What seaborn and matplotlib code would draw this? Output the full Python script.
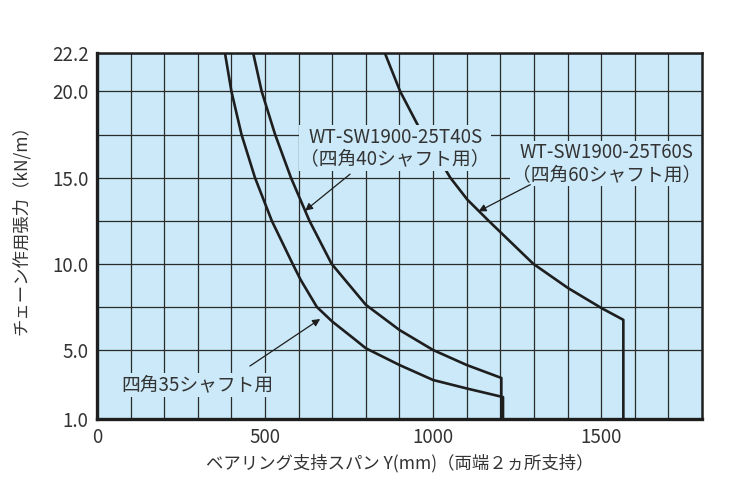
import matplotlib
matplotlib.use('Agg')
import matplotlib.pyplot as plt
import pandas as pd
import seaborn as sns

# curve data (span in mm, tension in kN/m)
span_35 = [381, 400, 430, 470, 520, 582, 606, 654, 700, 763, 800, 900, 1000, 1100, 1208, 1208]
tension_35 = [22.2, 20.0, 17.5, 15.0, 12.5, 10.0, 9.07, 7.5, 6.65, 5.68, 5.1, 4.13, 3.26, 2.77, 2.27, 1.0]

span_40 = [465, 490, 530, 577, 632, 698, 800, 900, 1000, 1100, 1203, 1203]
tension_40 = [22.2, 20.0, 17.5, 15.0, 12.5, 10.0, 7.62, 6.16, 5.0, 4.13, 3.38, 1.0]

span_60 = [857, 902, 961, 1001, 1051, 1102, 1165, 1298, 1401, 1502, 1566, 1566]
tension_60 = [22.2, 20.0, 17.8, 16.63, 15.0, 13.72, 12.5, 10.0, 8.6, 7.42, 6.75, 1.0]

x_ticks = [0, 500, 1000, 1500]
y_ticks = [1.0, 5.0, 10.0, 15.0, 20.0, 22.2]
y_minor = [7.5, 12.5, 17.5]

BG = '#cbe9f8'
INK = '#1e1e1e'
TXT = '#333333'

sns.set_style('white')
plt.rcParams['font.family'] = ['Noto Sans CJK JP', 'DejaVu Sans']

fig = plt.figure(figsize=(7.33, 4.97), dpi=100)
ax = fig.add_axes([0.1323, 0.157, 0.8254, 0.7354])
ax.set_facecolor(BG)

for xs, ys in [(span_35, tension_35), (span_40, tension_40), (span_60, tension_60)]:
    df = pd.DataFrame({'span': xs, 'tension': ys})
    sns.lineplot(data=df, x='span', y='tension', sort=False, estimator=None,
                 color=INK, linewidth=1.9, ax=ax, zorder=3)

ax.set_xlim(0, 1800)
ax.set_ylim(1.0, 22.2)
ax.set_xticks(x_ticks)
ax.set_xticks(range(100, 1800, 100), minor=True)
ax.set_yticks(y_ticks)
ax.set_yticklabels([f'{v:.1f}' for v in y_ticks])
ax.set_yticks(y_minor, minor=True)
ax.grid(True, which='both', color='#2a2a2a', linewidth=0.9, zorder=1)
ax.set_axisbelow(True)
ax.tick_params(which='both', length=0, labelsize=13.5, colors=TXT, pad=6)

for side in ['left', 'bottom']:
    ax.spines[side].set_linewidth(2.4)
for side in ['top', 'right']:
    ax.spines[side].set_linewidth(1.8)
for sp in ax.spines.values():
    sp.set_color(INK)
    sp.set_zorder(7)

ax.set_xlabel('ベアリング支持スパン Y(mm)（両端２ヵ所支持）', fontsize=12.5, color=TXT, labelpad=4)
ax.set_ylabel('チェーン作用張力（kN/m）', fontsize=12.5, color=TXT)
ax.yaxis.set_label_coords(-0.11, 0.53)

box = dict(facecolor=BG, edgecolor='none', pad=1.0)
ax.text(887, 16.72, 'WT-SW1900-25T40S\n（四角40シャフト用）', ha='center', va='center',
        fontsize=13.5, color=TXT, bbox=box, zorder=5, linespacing=1.05)
ax.text(1515, 15.81, 'WT-SW1900-25T60S\n（四角60シャフト用）', ha='center', va='center',
        fontsize=13.5, color=TXT, bbox=box, zorder=5, linespacing=1.05)
ax.text(298, 2.97, '四角35シャフト用', ha='center', va='center',
        fontsize=13.5, color=TXT, bbox=box, zorder=5)

arrow = dict(arrowstyle='-|>', color=INK, lw=0.9, mutation_scale=11, shrinkA=0, shrinkB=0)
ax.annotate('', xy=(619, 13.08), xytext=(753, 15.2), arrowprops=arrow, zorder=6)
ax.annotate('', xy=(1135, 13.04), xytext=(1289, 14.59), arrowprops=arrow, zorder=6)
ax.annotate('', xy=(664, 6.8), xytext=(455, 4.07), arrowprops=arrow, zorder=6)

fig.savefig('out.png', dpi=100)
